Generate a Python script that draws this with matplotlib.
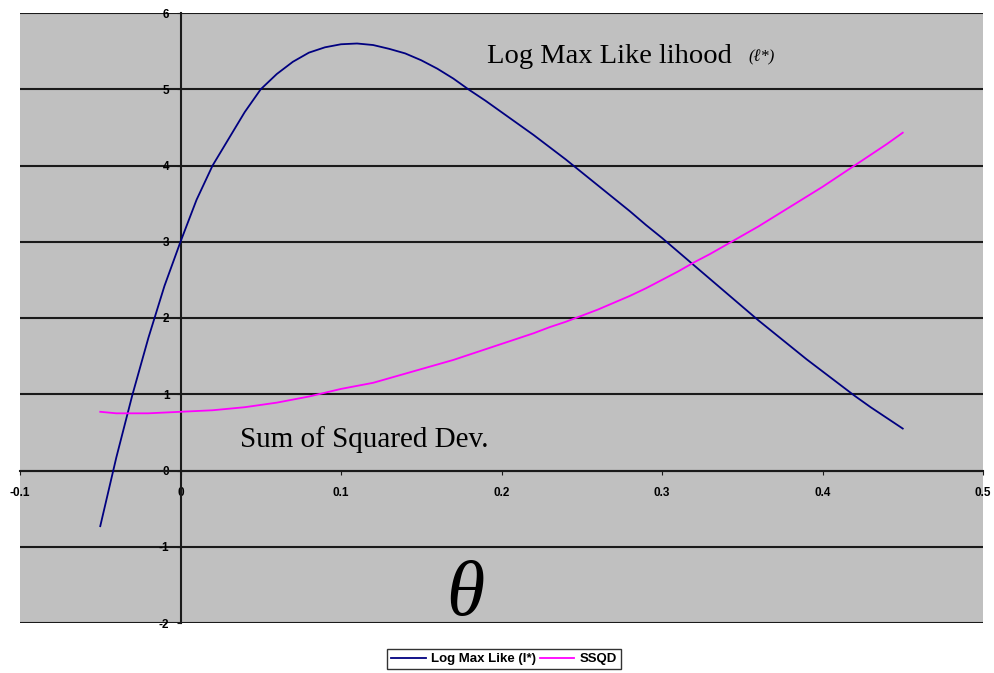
import matplotlib
matplotlib.use("Agg")
import matplotlib.pyplot as plt
import numpy as np

theta = [-0.05, -0.04, -0.03, -0.02, -0.01, 0.0, 0.01, 0.02, 0.03, 0.04,
         0.05, 0.06, 0.07, 0.08, 0.09, 0.10, 0.11, 0.12, 0.13, 0.14,
         0.15, 0.16, 0.17, 0.18, 0.19, 0.20, 0.21, 0.22, 0.23, 0.24,
         0.25, 0.26, 0.27, 0.28, 0.29, 0.30, 0.31, 0.32, 0.33, 0.34,
         0.35, 0.36, 0.37, 0.38, 0.39, 0.40, 0.41, 0.42, 0.43, 0.44, 0.45]

log_max_like = [-0.73, 0.17, 0.99, 1.74, 2.42, 3.00, 3.55, 4.00, 4.35, 4.70,
                5.00, 5.20, 5.36, 5.48, 5.55, 5.59, 5.60, 5.58, 5.53, 5.47,
                5.38, 5.27, 5.14, 4.99, 4.85, 4.70, 4.55, 4.40, 4.24, 4.08,
                3.91, 3.74, 3.57, 3.40, 3.22, 3.05, 2.87, 2.69, 2.51, 2.33,
                2.15, 1.97, 1.80, 1.63, 1.46, 1.30, 1.14, 0.98, 0.83, 0.69, 0.55]

ssqd = [0.77, 0.75, 0.75, 0.75, 0.76, 0.77, 0.78, 0.79, 0.81, 0.83,
        0.86, 0.89, 0.93, 0.97, 1.02, 1.07, 1.11, 1.15, 1.21, 1.27,
        1.33, 1.39, 1.45, 1.52, 1.59, 1.66, 1.73, 1.80, 1.88, 1.95,
        2.03, 2.11, 2.20, 2.29, 2.39, 2.50, 2.61, 2.73, 2.84, 2.96,
        3.08, 3.20, 3.33, 3.46, 3.59, 3.72, 3.86, 4.00, 4.14, 4.28, 4.43]

x_ticks = [-0.1, 0, 0.1, 0.2, 0.3, 0.4, 0.5]
x_labels = ['-0.1', '0', '0.1', '0.2', '0.3', '0.4', '0.5']
y_ticks = [-2, -1, 0, 1, 2, 3, 4, 5, 6]

serif = ['Liberation Serif', 'DejaVu Serif']
sans = ['Liberation Sans', 'DejaVu Sans']

fig = plt.figure(figsize=(9.95, 6.73), dpi=100)
ax = fig.add_axes([20 / 995, 1 - 623 / 673, 963 / 995, 610 / 673])
ax.set_facecolor('#C0C0C0')

# horizontal gridlines, Excel style
for yv in y_ticks:
    ax.axhline(yv, color='#1a1a1a', lw=1.5, zorder=1)

ax.plot(theta, log_max_like, color='#000080', lw=1.3, label="Log Max Like (l*)", zorder=3)
ax.plot(theta, ssqd, color='#FF00FF', lw=1.3, label='SSQD', zorder=3)

ax.set_xlim(-0.1, 0.5)
ax.set_ylim(-2, 6)

# axes cross at the origin
ax.spines['left'].set_position(('data', 0))
ax.spines['bottom'].set_position(('data', 0))
ax.spines['top'].set_visible(False)
ax.spines['right'].set_visible(False)
for s in ('left', 'bottom'):
    ax.spines[s].set_color('#1a1a1a')
    ax.spines[s].set_linewidth(1.5)
    ax.spines[s].set_zorder(2)

ax.set_xticks(x_ticks)
ax.set_xticklabels(x_labels, family=sans, fontsize=8.5, fontweight='bold')
ax.set_yticks(y_ticks)
ax.set_yticklabels([str(v) for v in y_ticks], family=sans, fontsize=8.5, fontweight='bold')
ax.tick_params(axis='x', length=3, pad=9, color='#1a1a1a')
ax.tick_params(axis='y', length=3, pad=5, color='#1a1a1a')

ax.text(0.191, 5.34, 'Log Max Like lihood', family=serif, fontsize=20.5, va='baseline', ha='left')
ax.text(0.354, 5.36, '(ℓ*)', family=serif, fontsize=12, style='italic', va='baseline', ha='left')
ax.text(0.037, 0.31, 'Sum of Squared Dev.', family=serif, fontsize=21, va='baseline', ha='left')
ax.text(0.1775, -1.9, 'θ', family=serif, fontsize=56, style='italic', va='baseline', ha='center')

fig.legend(loc='upper center', bbox_to_anchor=(504 / 995, 1 - 649 / 673), ncol=2,
           frameon=True, fancybox=False, edgecolor='black',
           prop={'family': sans, 'size': 9.5, 'weight': 'bold'},
           handlelength=2.6, columnspacing=0.3, borderpad=0.3, handletextpad=0.4,
           borderaxespad=0)

fig.savefig('out.png', dpi=100)
